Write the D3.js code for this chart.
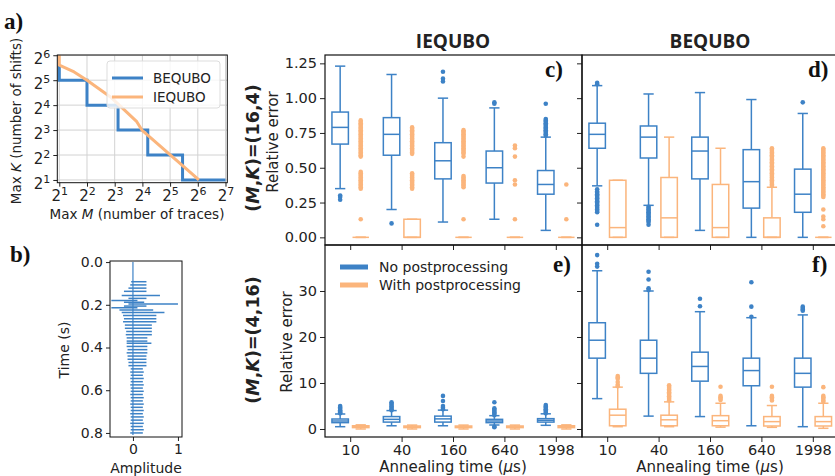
<!DOCTYPE html>
<html>
<head>
<meta charset="utf-8">
<script src="https://cdn.jsdelivr.net/npm/d3@7"></script>
<style>
  body { margin: 0; background: #fff; }
  svg { display: block; font-family: "DejaVu Sans", sans-serif; }
  .tick text { fill: #222; }
  .tick line { stroke: #222; }
</style>
</head>
<body>
<svg id="fig" width="835" height="476"></svg>
<script>
// ---- data ----
var bequboM = [2, 2, 4, 4, 8.7, 8.7, 18.3, 18.3, 43.7, 43.7, 128];
var bequboK = [48.5, 32, 32, 16, 16, 8, 8, 4, 4, 2, 2];
var iequboM = [2, 2, 2.9, 4, 7.2, 13.9, 15.8, 65.8];
var iequboK = [64, 48.5, 40.2, 32, 20.1, 10.1, 8, 2];

// trace in panel b: time, most negative and most positive excursion
var spikeTime = [0.092, 0.107, 0.122, 0.137, 0.156, 0.170, 0.180, 0.188, 0.196, 0.206, 0.214, 0.224,
  0.236, 0.250, 0.265, 0.280, 0.295, 0.310, 0.325, 0.340, 0.355, 0.370, 0.380, 0.395, 0.410, 0.425,
  0.440, 0.455, 0.470, 0.485, 0.500, 0.515, 0.530, 0.545, 0.560, 0.575, 0.590, 0.605, 0.620, 0.635,
  0.650, 0.665, 0.680, 0.695, 0.710, 0.725, 0.740, 0.755, 0.770, 0.785, 0.800];
var spikeLeft = [-0.04, -0.06, -0.10, -0.20, -0.25, -0.10, -0.48, -0.20, -0.10, -0.20, -0.48, -0.30,
  -0.25, -0.22, -0.20, -0.22, -0.18, -0.18, -0.15, -0.16, -0.14, -0.14, -0.14, -0.14, -0.12, -0.14,
  -0.12, -0.12, -0.10, -0.10, -0.05, -0.06, -0.05, -0.06, -0.05, -0.06, -0.05, -0.05, -0.06, -0.05,
  -0.05, -0.06, -0.05, -0.05, -0.06, -0.05, -0.05, -0.06, -0.05, -0.05, -0.06];
var spikeRight = [0.30, 0.30, 0.30, 0.30, 0.60, 0.30, 0.10, 0.25, 1.00, 0.30, 0.10, 0.45,
  0.70, 0.52, 0.52, 0.52, 0.42, 0.42, 0.42, 0.42, 0.32, 0.32, 0.41, 0.32, 0.32, 0.32,
  0.30, 0.30, 0.30, 0.30, 0.22, 0.24, 0.22, 0.24, 0.22, 0.24, 0.22, 0.24, 0.22, 0.24,
  0.22, 0.24, 0.22, 0.24, 0.22, 0.24, 0.22, 0.24, 0.22, 0.24, 0.22];

var annealTimes = ["10", "40", "160", "640", "1998"];

// box stats: [lower whisker, q1, median, q3, upper whisker]
var c_noPost = [[0.35, 0.67, 0.79, 0.90, 1.23], [0.20, 0.59, 0.74, 0.86, 1.17], [0.11, 0.42, 0.55, 0.68, 1.00],
  [0.13, 0.39, 0.50, 0.62, 0.93], [0.05, 0.31, 0.38, 0.48, 0.72]];
var c_withPost = [[0, 0, 0, 0, 0], [0, 0, 0, 0.13, 0.13], [0, 0, 0, 0, 0], [0, 0, 0, 0, 0], [0, 0, 0, 0, 0]];
var d_noPost = [[0.37, 0.64, 0.74, 0.82, 1.09], [0.23, 0.57, 0.72, 0.80, 1.03], [0.05, 0.42, 0.62, 0.72, 1.04],
  [0, 0.21, 0.40, 0.63, 0.99], [0, 0.18, 0.31, 0.49, 0.89]];
var d_withPost = [[0, 0, 0.07, 0.41, 0.41], [0, 0, 0.14, 0.43, 0.72], [0, 0, 0.07, 0.38, 0.64],
  [0, 0, 0, 0.14, 0.36], [0, 0, 0, 0, 0]];
var e_noPost = [[0.5, 1.38, 1.74, 2.17, 3.26], [0.7, 1.5, 2.1, 2.7, 4.0], [0.7, 1.5, 2.2, 2.8, 4.1],
  [0.87, 1.38, 1.74, 2.1, 2.9], [0.8, 1.5, 1.9, 2.25, 3.3]];
var e_withPost = [[0, 0.3, 0.5, 0.7, 0.9], [0, 0.3, 0.45, 0.65, 0.85], [0, 0.3, 0.45, 0.65, 0.85],
  [0, 0.3, 0.45, 0.65, 0.85], [0, 0.3, 0.5, 0.7, 0.9]];
var f_noPost = [[6.6, 15.4, 19.3, 23.1, 34.4], [2.8, 12.1, 15.4, 19.3, 30.0], [2.7, 10.4, 13.6, 16.7, 25.5],
  [0.7, 9.4, 12.7, 15.4, 24.2], [0.5, 9.1, 12.1, 15.4, 24.8]];
var f_withPost = [[0.5, 0.7, 3.0, 4.3, 9.1], [0.5, 0.7, 2.0, 3.0, 5.9], [0.4, 0.7, 1.8, 2.9, 5.6],
  [0.36, 0.65, 1.6, 2.7, 5.1], [0.15, 0.65, 1.6, 2.7, 5.6]];

// outliers per box
var c_noPostOut = [[0.30, 0.29, 0.27], [0.10], [1.19, 1.14, 1.12], [0.97, 0.96],
  [0.96, 0.85, 0.84, 0.83, 0.82, 0.81, 0.80, 0.79, 0.78, 0.77, 0.76, 0.75, 0.74, 0.73]];
var c_withPostOut = [
  [0.84, 0.83, 0.82, 0.81, 0.80, 0.79, 0.78, 0.77, 0.76, 0.75, 0.74, 0.73, 0.72, 0.71, 0.70, 0.69, 0.68, 0.67,
   0.66, 0.65, 0.64, 0.63, 0.62, 0.61, 0.60, 0.59, 0.58, 0.47, 0.46, 0.45, 0.44, 0.43, 0.42, 0.41, 0.40, 0.39,
   0.38, 0.37, 0.36, 0.35, 0.13],
  [0.79, 0.78, 0.77, 0.76, 0.75, 0.74, 0.73, 0.72, 0.71, 0.70, 0.69, 0.68, 0.67, 0.66, 0.65, 0.64, 0.63, 0.62,
   0.61, 0.60, 0.46, 0.45, 0.44, 0.43, 0.42, 0.41, 0.40, 0.39, 0.38, 0.37, 0.36, 0.35],
  [0.77, 0.76, 0.75, 0.74, 0.73, 0.72, 0.71, 0.70, 0.69, 0.68, 0.67, 0.66, 0.65, 0.64, 0.63, 0.62, 0.61, 0.60,
   0.58, 0.44, 0.43, 0.42, 0.41, 0.40, 0.39, 0.38, 0.37, 0.36, 0.13],
  [0.66, 0.64, 0.58, 0.41, 0.38, 0.13],
  [0.38, 0.13]];
var d_noPostOut = [[1.11, 1.10, 0.345, 0.33, 0.32, 0.31, 0.30, 0.29, 0.28, 0.27, 0.26, 0.25, 0.24, 0.23, 0.22,
  0.21, 0.20, 0.19, 0.18, 0.09], [0.22, 0.21, 0.20, 0.19, 0.18, 0.17, 0.16, 0.15, 0.14, 0.13, 0.12, 0.11, 0.09],
  [], [], [0.97]];
var d_withPostOut = [[], [], [],
  [0.64, 0.63, 0.62, 0.61, 0.60, 0.59, 0.58, 0.57, 0.56, 0.55, 0.54, 0.53, 0.52, 0.51, 0.50, 0.49, 0.48, 0.47,
   0.46, 0.45, 0.44, 0.43, 0.42, 0.41, 0.40, 0.39, 0.38, 0.37],
  [0.64, 0.63, 0.62, 0.61, 0.60, 0.59, 0.58, 0.57, 0.56, 0.55, 0.54, 0.53, 0.52, 0.51, 0.50, 0.49, 0.48, 0.47,
   0.46, 0.45, 0.44, 0.43, 0.42, 0.41, 0.40, 0.39, 0.38, 0.37, 0.36, 0.35, 0.34, 0.33, 0.32, 0.31, 0.30, 0.29,
   0.20, 0.15, 0.13, 0.08]];
var e_noPostOut = [[5.0, 4.7, 4.4, 4.1, 3.8, 3.6, 3.4], [5.8, 5.5, 5.2, 4.9, 4.6, 4.3, 4.1],
  [7.2, 6.1, 5.0, 4.6, 4.3], [5.8, 4.5, 4.2, 3.9, 3.6, 3.3, 3.0, 0.5, 0.4], [5.2, 4.9, 4.6, 4.3, 4.0, 3.7, 3.4]];
var e_withPostOut = [[], [], [], [], []];
var f_noPostOut = [[37.8, 35.9, 35.3], [34.2, 32.5, 30.6, 30.2], [28.3, 26.7], [31.9, 26.6, 24.4],
  [26.6, 26.3, 26.0, 25.7]];
var f_withPostOut = [[11.5, 11.2, 10.9, 10.2, 9.6, 9.3],
  [9.5, 9.2, 8.9, 8.6, 8.3, 8.0, 7.7, 7.4, 7.1, 6.8, 6.5, 6.2],
  [9.2, 7.2, 6.9, 6.6, 6.3], [9.2, 7.2, 6.9, 6.6, 6.2], [9.1, 7.2, 6.9, 6.6, 6.2, 5.9]];

var blue = "#3d82c6";
var orange = "#fbb57c";

var svg = d3.select("#fig");

// ---------- panel a ----------
var xA = d3.scaleLog().base(2).domain([Math.pow(2, 0.928), Math.pow(2, 7.065)]).range([57.3, 227.3]);
var yA = d3.scaleLog().base(2).domain([Math.pow(2, 0.89), Math.pow(2, 6.01)]).range([182.7, 55]);
var pa = svg.append("g");
var powsX = [2, 4, 8, 16, 32, 64, 128];
var powsY = [2, 4, 8, 16, 32, 64];

pa.selectAll("line.gx").data(powsX).enter().append("line")
  .attr("x1", d => xA(d)).attr("x2", d => xA(d))
  .attr("y1", 55).attr("y2", 182.7)
  .attr("stroke", "#d2d2d2").attr("stroke-width", 1);
pa.selectAll("line.gy").data(powsY).enter().append("line")
  .attr("y1", d => yA(d)).attr("y2", d => yA(d))
  .attr("x1", 57.3).attr("x2", 227.3)
  .attr("stroke", "#d2d2d2").attr("stroke-width", 1);

var lineA = d3.line().x(d => xA(d[0])).y(d => yA(d[1]));
pa.append("path").datum(d3.zip(bequboM, bequboK))
  .attr("d", lineA).attr("fill", "none").attr("stroke", blue).attr("stroke-width", 3);
pa.append("path").datum(d3.zip(iequboM, iequboK))
  .attr("d", lineA).attr("fill", "none").attr("stroke", orange).attr("stroke-width", 3)
  .attr("stroke-linejoin", "round");

function powLabels(sel) {
  sel.selectAll(".tick text").each(function(d) {
    var t = d3.select(this);
    t.text("2");
    t.append("tspan").attr("dy", "-0.55em").attr("font-size", "11px").text(Math.round(Math.log2(d)));
  });
}
pa.append("g").attr("transform", "translate(0,182.7)")
  .call(d3.axisBottom(xA).tickValues(powsX).tickSize(4).tickSizeOuter(0).tickPadding(4))
  .call(g => g.select(".domain").remove())
  .attr("font-size", 15).attr("font-family", null)
  .call(powLabels);
var yAxA = pa.append("g").attr("transform", "translate(57.3,0)")
  .call(d3.axisLeft(yA).tickValues(powsY).tickSize(4).tickSizeOuter(0).tickPadding(3))
  .call(g => g.select(".domain").remove())
  .attr("font-size", 15).attr("font-family", null)
  .call(powLabels);
yAxA.selectAll(".tick text").attr("dy", "0.55em");
pa.append("rect").attr("x", 57.3).attr("y", 55).attr("width", 170).attr("height", 127.7)
  .attr("fill", "none").attr("stroke", "#111").attr("stroke-width", 1);

// legend a
var legA = pa.append("g");
legA.append("rect").attr("x", 107).attr("y", 61).attr("width", 113).attr("height", 47).attr("rx", 3)
  .attr("fill", "rgba(255,255,255,0.8)").attr("stroke", "#ddd");
[["BEQUBO", blue, 78], ["IEQUBO", orange, 97]].forEach(function(e) {
  legA.append("line").attr("x1", 112).attr("x2", 143).attr("y1", e[2]).attr("y2", e[2])
    .attr("stroke", e[1]).attr("stroke-width", 3);
  legA.append("text").attr("x", 153).attr("y", e[2] + 5).attr("font-size", 13.5).attr("fill", "#222").text(e[0]);
});
pa.append("text").attr("x", 137).attr("y", 219).attr("text-anchor", "middle").attr("font-size", 13.5)
  .attr("fill", "#222")
  .html('Max <tspan font-style="italic">M</tspan> (number of traces)');
pa.append("text").attr("transform", "translate(21,121) rotate(-90)").attr("text-anchor", "middle")
  .attr("font-size", 13.5).attr("fill", "#222")
  .html('Max <tspan font-style="italic">K</tspan> (number of shifts)');

// ---------- panel b ----------
var xB = d3.scaleLinear().domain([-0.51, 1.09]).range([110, 182]);
var yB = d3.scaleLinear().domain([-0.005, 0.819]).range([261, 437]);
var pb = svg.append("g");
pb.append("line").attr("x1", xB(0)).attr("x2", xB(0)).attr("y1", yB(0)).attr("y2", yB(0.81))
  .attr("stroke", blue).attr("stroke-width", 1.2);
pb.selectAll("line.spike").data(d3.zip(spikeTime, spikeLeft, spikeRight)).enter().append("line")
  .attr("x1", d => xB(d[1])).attr("x2", d => xB(d[2]))
  .attr("y1", d => yB(d[0])).attr("y2", d => yB(d[0]))
  .attr("stroke", blue).attr("stroke-width", 1.5);
pb.append("g").attr("transform", "translate(110,0)")
  .call(d3.axisLeft(yB).tickValues([0, 0.2, 0.4, 0.6, 0.8]).tickFormat(d3.format(".1f")).tickSize(4).tickSizeOuter(0))
  .call(g => g.select(".domain").remove())
  .attr("font-size", 14).attr("font-family", null);
pb.append("g").attr("transform", "translate(0,437)")
  .call(d3.axisBottom(xB).tickValues([0, 1]).tickFormat(d3.format("d")).tickSize(4).tickSizeOuter(0))
  .call(g => g.select(".domain").remove())
  .attr("font-size", 14).attr("font-family", null);
pb.append("rect").attr("x", 110).attr("y", 261).attr("width", 72).attr("height", 176)
  .attr("fill", "none").attr("stroke", "#111");
pb.append("text").attr("transform", "translate(69,350) rotate(-90)").attr("text-anchor", "middle")
  .attr("font-size", 14).attr("fill", "#222").text("Time (s)");
pb.append("text").attr("x", 146).attr("y", 473).attr("text-anchor", "middle")
  .attr("font-size", 14).attr("fill", "#222").text("Amplitude");

// ---------- box plot panels ----------
var colL = [325, 582], colR = [582, 839];
var rowTop = [55, 245], rowBot = [245, 437];
var yTop = d3.scaleLinear().domain([-0.055, 1.31]).range([245, 55]);
var yBot = d3.scaleLinear().domain([-1.74, 40]).range([437, 245]);

function boxPanel(xr, yr, y, blueStats, blueOut, orStats, orOut, showYLabels, showXLabels) {
  var x = d3.scaleBand().domain(annealTimes).range(xr);
  var bw = x.bandwidth();
  var g = svg.append("g");
  var clipId = "clip" + xr[0] + "_" + yr[0];
  g.append("clipPath").attr("id", clipId).append("rect")
    .attr("x", xr[0]).attr("y", yr[0]).attr("width", xr[1] - xr[0]).attr("height", yr[1] - yr[0]);
  var body = g.append("g").attr("clip-path", "url(#" + clipId + ")");
  [[blueStats, blueOut, blue, -0.205], [orStats, orOut, orange, 0.195]].forEach(function(s) {
    s[0].forEach(function(st, i) {
      var cx = x(annealTimes[i]) + bw / 2 + s[3] * bw;
      var w = 0.32 * bw, cw = 0.2 * bw;
      var bx = body.append("g").attr("stroke", s[2]).attr("stroke-width", 1.5).attr("fill", "none");
      bx.append("line").attr("x1", cx).attr("x2", cx).attr("y1", y(st[0])).attr("y2", y(st[1]));
      bx.append("line").attr("x1", cx).attr("x2", cx).attr("y1", y(st[3])).attr("y2", y(st[4]));
      bx.append("line").attr("x1", cx - cw / 2).attr("x2", cx + cw / 2).attr("y1", y(st[0])).attr("y2", y(st[0]));
      bx.append("line").attr("x1", cx - cw / 2).attr("x2", cx + cw / 2).attr("y1", y(st[4])).attr("y2", y(st[4]));
      bx.append("rect").attr("x", cx - w / 2).attr("width", w)
        .attr("y", y(st[3])).attr("height", Math.max(0, y(st[1]) - y(st[3])));
      bx.append("line").attr("x1", cx - w / 2).attr("x2", cx + w / 2).attr("y1", y(st[2])).attr("y2", y(st[2]));
      body.selectAll(null).data(s[1][i]).enter().append("circle")
        .attr("cx", cx).attr("cy", d => y(d)).attr("r", 2.3).attr("fill", s[2]);
    });
  });
  var ya = d3.axisLeft(y).tickSize(5).tickSizeOuter(0);
  if (y === yTop) ya.tickValues([0, 0.25, 0.5, 0.75, 1.0, 1.25]).tickFormat(d3.format(".2f"));
  else ya.tickValues([0, 10, 20, 30]);
  if (!showYLabels) ya.tickFormat("");
  g.append("g").attr("transform", "translate(" + xr[0] + ",0)").call(ya)
    .call(a => a.select(".domain").remove())
    .attr("font-size", 14.5).attr("font-family", null);
  var xa = d3.axisBottom(x).tickSize(5).tickSizeOuter(0);
  if (!showXLabels) xa.tickFormat("");
  g.append("g").attr("transform", "translate(0," + yr[1] + ")").call(xa)
    .call(a => a.select(".domain").remove())
    .attr("font-size", 14.5).attr("font-family", null);
  g.append("rect").attr("x", xr[0]).attr("y", yr[0]).attr("width", xr[1] - xr[0]).attr("height", yr[1] - yr[0])
    .attr("fill", "none").attr("stroke", "#111").attr("stroke-width", 1.2);
  return g;
}

boxPanel(colL, rowTop, yTop, c_noPost, c_noPostOut, c_withPost, c_withPostOut, true, false);
boxPanel(colR, rowTop, yTop, d_noPost, d_noPostOut, d_withPost, d_withPostOut, false, false);
boxPanel(colL, rowBot, yBot, e_noPost, e_noPostOut, e_withPost, e_withPostOut, true, true);
boxPanel(colR, rowBot, yBot, f_noPost, f_noPostOut, f_withPost, f_withPostOut, false, true);

// legend e
[["No postprocessing", blue, 267], ["With postprocessing", orange, 285]].forEach(function(e) {
  svg.append("line").attr("x1", 340).attr("x2", 368).attr("y1", e[2]).attr("y2", e[2])
    .attr("stroke", e[1]).attr("stroke-width", 5);
  svg.append("text").attr("x", 379).attr("y", e[2] + 5).attr("font-size", 14).attr("fill", "#222").text(e[0]);
});

// titles and labels
svg.append("text").attr("x", 453).attr("y", 48).attr("text-anchor", "middle").attr("font-family", "Open Sans")
  .attr("font-weight", "bold").attr("font-size", 19).attr("fill", "#222").text("IEQUBO");
svg.append("text").attr("x", 710).attr("y", 48).attr("text-anchor", "middle").attr("font-family", "Open Sans")
  .attr("font-weight", "bold").attr("font-size", 19).attr("fill", "#222").text("BEQUBO");

svg.append("text").attr("transform", "translate(259,148) rotate(-90)").attr("text-anchor", "middle")
  .attr("font-weight", "bold").attr("font-size", 17.5).attr("fill", "#222")
  .html('(<tspan font-style="italic">M</tspan>,<tspan font-style="italic">K</tspan>)=(16,4)');
svg.append("text").attr("transform", "translate(259,340) rotate(-90)").attr("text-anchor", "middle")
  .attr("font-weight", "bold").attr("font-size", 17.5).attr("fill", "#222")
  .html('(<tspan font-style="italic">M</tspan>,<tspan font-style="italic">K</tspan>)=(4,16)');
svg.append("text").attr("transform", "translate(278,142) rotate(-90)").attr("text-anchor", "middle")
  .attr("font-size", 15).attr("fill", "#222").text("Relative error");
svg.append("text").attr("transform", "translate(292,342) rotate(-90)").attr("text-anchor", "middle")
  .attr("font-size", 15).attr("fill", "#222").text("Relative error");
svg.append("text").attr("x", 453).attr("y", 472).attr("text-anchor", "middle").attr("font-size", 15)
  .attr("fill", "#222").html('Annealing time (<tspan font-style="italic">μ</tspan>s)');
svg.append("text").attr("x", 710).attr("y", 472).attr("text-anchor", "middle").attr("font-size", 15)
  .attr("fill", "#222").html('Annealing time (<tspan font-style="italic">μ</tspan>s)');

// panel letters
[["a)", 4, 29], ["b)", 10, 262], ["c)", 545, 77], ["d)", 808, 77], ["e)", 553, 272], ["f)", 812, 272]]
  .forEach(function(p) {
    svg.append("text").attr("x", p[1]).attr("y", p[2]).attr("font-family", "Liberation Serif")
      .attr("font-weight", "bold").attr("font-size", 23).attr("fill", "#111").text(p[0]);
  });
</script>
</body>
</html>
